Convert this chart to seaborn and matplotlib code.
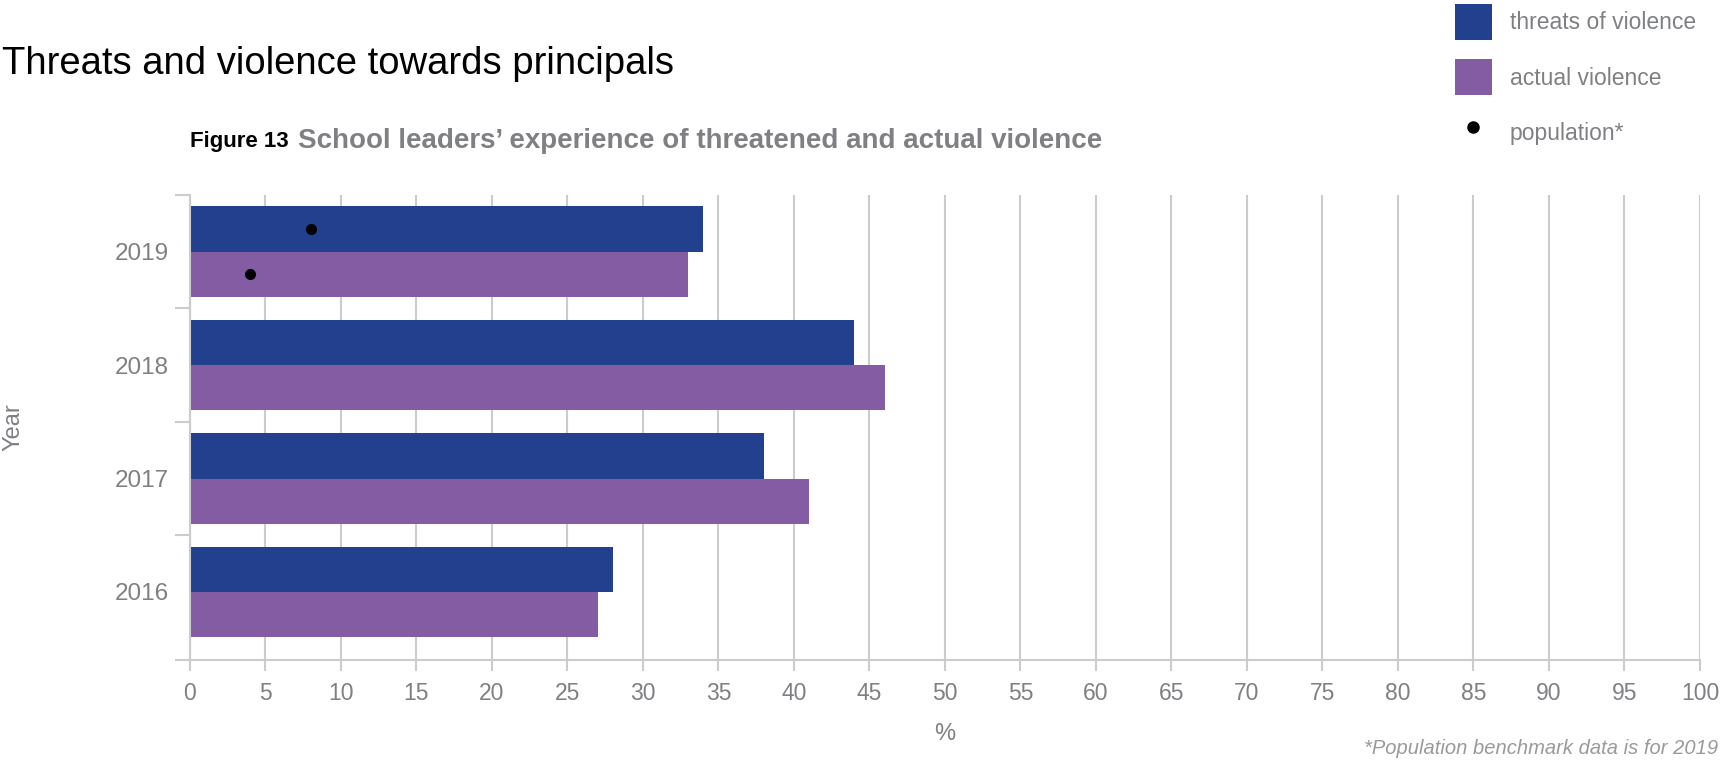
"""
Threats and violence towards principals — horizontal grouped bars
"""
# ─ Import libraries ─────────────────────────────────────────────────────────────────────── #
import numpy as np
import pandas as pd
import matplotlib
matplotlib.use("Agg")
import matplotlib.pyplot as plt
from matplotlib.patches import Patch
from matplotlib.lines import Line2D
import seaborn as sns

# ─ Data ─────────────────────────────────────────────────────────────────────────────────── #
years       = ["2019", "2018", "2017", "2016"]
series      = ["threats of violence", "actual violence"]
threats     = [34, 44, 38, 28]
actual      = [33, 46, 41, 27]
pop_years   = ["2019"]
pop_threats = [8]
pop_actual  = [4]
x_ticks     = list(range(0, 101, 5))

# ─ Style ────────────────────────────────────────────────────────────────────────────────── #
BLUE   = "#23408E"
PURPLE = "#845CA3"
GRAY   = "#7F8083"
GRID   = "#CCCCCC"

sns.set_theme(style="white")
plt.rcParams["font.family"] = ["Liberation Sans", "DejaVu Sans"]

W, H = 1724, 763

df = pd.DataFrame({
    "Year" : years * 2,
    "value": threats + actual,
    "kind" : [series[0]] * len(years) + [series[1]] * len(years),
})
pop = pd.DataFrame({
    "Year" : pop_years * 2,
    "value": pop_threats + pop_actual,
    "kind" : [series[0]] * len(pop_years) + [series[1]] * len(pop_years),
})

# ─ Figure ───────────────────────────────────────────────────────────────────────────────── #
fig = plt.figure(figsize=(W / 100, H / 100), dpi=100)
ax = fig.add_axes([190 / W, 1 - 660 / H, 1510 / W, 465 / H])

sns.barplot(data=df, x="value", y="Year", hue="kind", order=years, hue_order=series,
            palette=[BLUE, PURPLE], saturation=1, width=0.8, errorbar=None,
            linewidth=0, orient="h", legend=False, ax=ax, zorder=2)
sns.stripplot(data=pop, x="value", y="Year", hue="kind", order=years, hue_order=series,
              palette=["black", "black"], dodge=True, jitter=False, size=8,
              linewidth=0, orient="h", legend=False, ax=ax, zorder=3)

y_bottom = len(years) - 0.4
ax.set_xlim(0, 100)
ax.set_ylim(y_bottom, -0.5)
ax.set_xticks(x_ticks)
ax.set_yticks(list(np.arange(-0.5, len(years) - 1, 1)) + [y_bottom], minor=True)

ax.set_axisbelow(True)
ax.xaxis.grid(True, color=GRID, linewidth=1.5)
ax.yaxis.grid(False)
for side in ["top", "right"]:
    ax.spines[side].set_visible(False)
for side in ["left", "bottom"]:
    ax.spines[side].set_color(GRID)
    ax.spines[side].set_linewidth(1.5)

ax.tick_params(axis="x", length=8, width=1.5, color=GRID, pad=8,
               labelsize=16.5, labelcolor=GRAY, bottom=True)
ax.tick_params(axis="y", which="major", length=0, pad=15,
               labelsize=17.5, labelcolor=GRAY)
ax.tick_params(axis="y", which="minor", length=11, width=1.5, color=GRID, left=True)

ax.set_xlabel("%", fontsize=17, color=GRAY, labelpad=13)
ax.set_ylabel("Year", fontsize=17, color=GRAY)
ax.yaxis.set_label_coords((25 - 190) / 1510, 0.5)

# ─ Titles ───────────────────────────────────────────────────────────────────────────────── #
fig.text(2 / W, 1 - 64 / H, "Threats and violence towards principals",
         fontsize=27.5, color="black", ha="left", va="center")
fig_lbl = fig.text(190 / W, 1 - 141 / H, "Figure 13", fontsize=16,
                   fontweight="bold", color="black", ha="left", va="center")
fig.canvas.draw()
bb = fig_lbl.get_window_extent()
fig.text((bb.x1 + 9) / W, 1 - 141 / H,
         "School leaders\u2019 experience of threatened and actual violence",
         fontsize=20, fontweight="bold", color=GRAY, ha="left", va="center")

fig.text(1718 / W, 1 - 749 / H, "*Population benchmark data is for 2019",
         fontsize=14.5, style="italic", color="#9A9A9D", ha="right", va="center")

# ─ Legend ───────────────────────────────────────────────────────────────────────────────── #
LEG_FS = 16.5
fs_px = LEG_FS * 100 / 72
handles = [
    Patch(facecolor=BLUE, edgecolor="none"),
    Patch(facecolor=PURPLE, edgecolor="none"),
    Line2D([], [], marker="o", color="black", linestyle="none", markersize=8),
]
fig.legend(handles, series + ["population*"], loc="upper left",
           bbox_to_anchor=(1455 / W, 1 - 4 / H), frameon=False, fontsize=LEG_FS,
           labelcolor=GRAY, handlelength=37 / fs_px, handleheight=2.02,
           labelspacing=0.86, handletextpad=18 / fs_px,
           borderpad=0, borderaxespad=0)

plt.savefig("out.png", dpi=100)
plt.close()
